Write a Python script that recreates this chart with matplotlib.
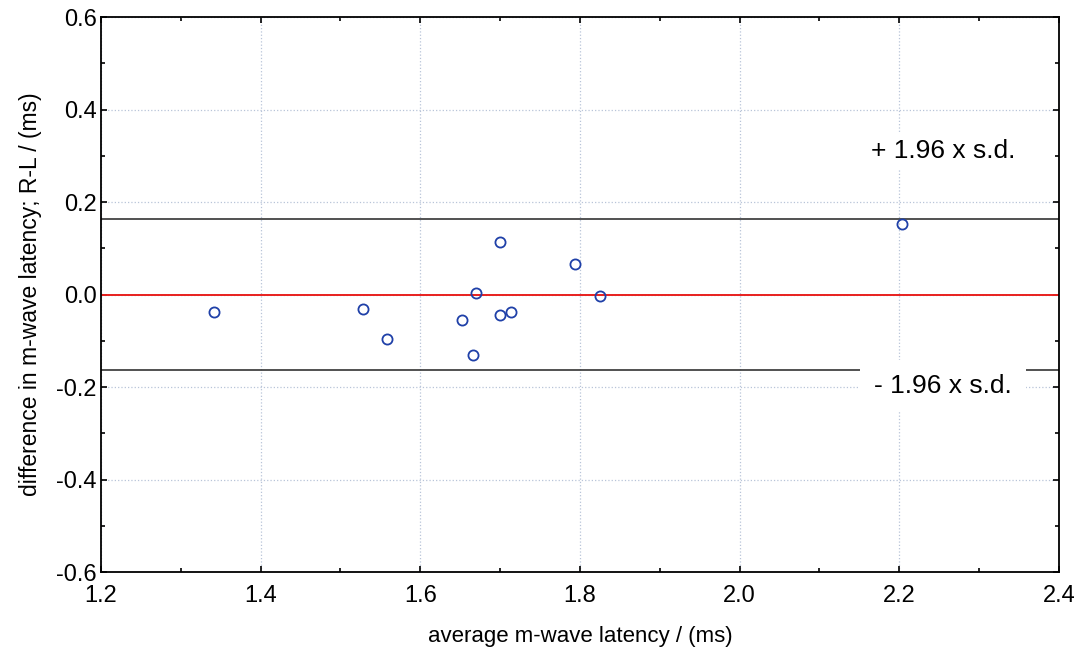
import matplotlib
matplotlib.use("Agg")
import matplotlib.pyplot as plt
from matplotlib.ticker import MultipleLocator

plt.rcParams['font.family'] = ['Liberation Sans', 'DejaVu Sans']

# Bland-Altman data: average latency vs R-L difference
avg_latency = [1.342, 1.528, 1.558, 1.652, 1.670, 1.666, 1.700, 1.700, 1.714, 1.794, 1.825, 2.204]
diff_latency = [-0.038, -0.032, -0.096, -0.055, 0.003, -0.131, 0.114, -0.044, -0.037, 0.067, -0.003, 0.152]
mean_diff = 0.0
upper_limit = 0.163
lower_limit = -0.163

fig = plt.figure(figsize=(10.88, 6.56), dpi=100)
ax = fig.add_axes([0.0928, 0.128, 0.8805, 0.846])

ax.set_xlim(1.2, 2.4)
ax.set_ylim(-0.6, 0.6)

ax.xaxis.set_major_locator(MultipleLocator(0.2))
ax.xaxis.set_minor_locator(MultipleLocator(0.1))
ax.yaxis.set_major_locator(MultipleLocator(0.2))
ax.yaxis.set_minor_locator(MultipleLocator(0.1))
ax.xaxis.set_major_formatter(lambda v, p: "%.1f" % v)
ax.yaxis.set_major_formatter(lambda v, p: "%.1f" % v)

ax.grid(True, which='major', color='#b8c4d8', linestyle=':', linewidth=0.9)
ax.tick_params(which='both', direction='in', top=True, right=True,
               labelsize=17, width=1.2)
ax.tick_params(axis='x', pad=9)
ax.tick_params(axis='y', pad=3)
ax.tick_params(which='major', length=4)
ax.tick_params(which='minor', length=3)
for s in ax.spines.values():
    s.set_linewidth(1.3)

ax.axhline(upper_limit, color='#333333', linewidth=1.2)
ax.axhline(lower_limit, color='#333333', linewidth=1.2)
ax.axhline(mean_diff, color='#e8201e', linewidth=1.4)

ax.plot(avg_latency, diff_latency, linestyle='none', marker='o', markersize=7.3,
        markerfacecolor='none', markeredgecolor='#1f40a8', markeredgewidth=1.3)

ax.text(2.2547, 0.31, "+ 1.96 x s.d.", fontsize=19, ha='center', va='center',
        bbox=dict(facecolor='white', edgecolor='none', pad=4))
ax.text(2.2547, -0.198, "- 1.96 x s.d.", fontsize=19, ha='center', va='center',
        bbox=dict(facecolor='white', edgecolor='none', pad=10))

ax.set_xlabel("average m-wave latency / (ms)", fontsize=16, labelpad=14)
ax.set_ylabel("difference in m-wave latency; R-L / (ms)", fontsize=16.5, labelpad=10)

fig.savefig("out.png", dpi=100)
